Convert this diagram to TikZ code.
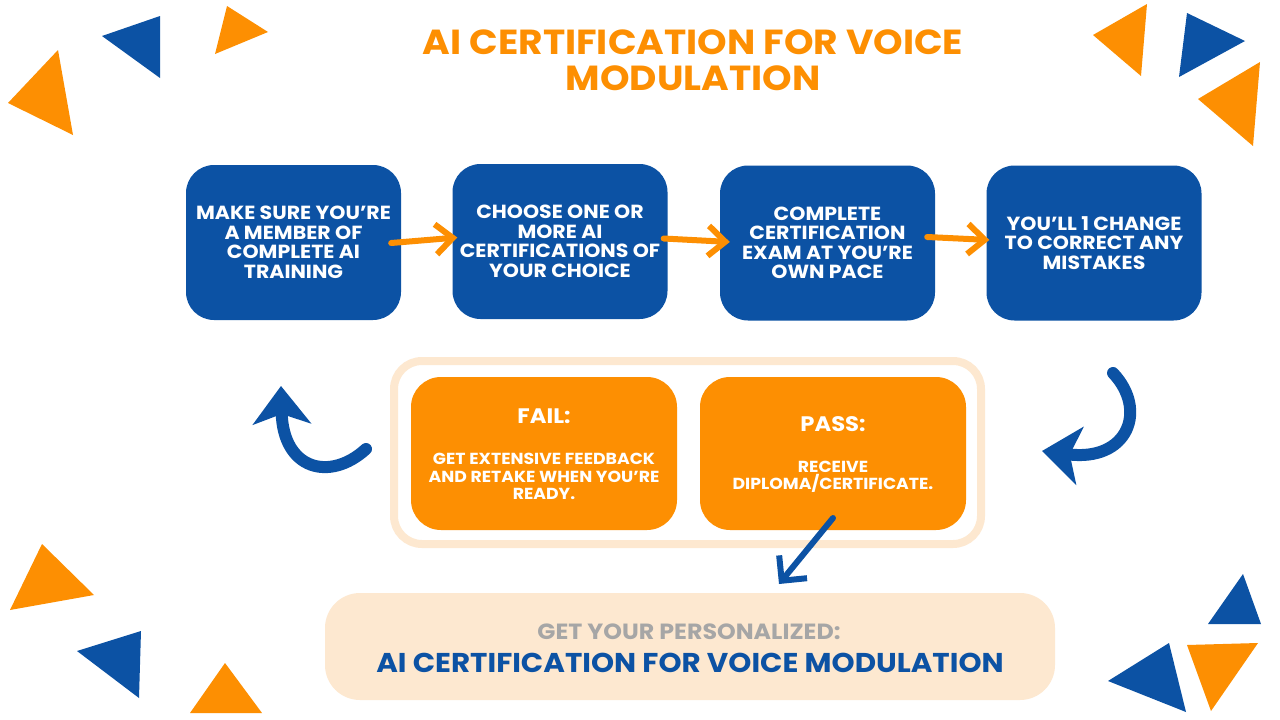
\documentclass[tikz,border=0pt]{standalone}
\usepackage{fontspec}
\setmainfont{Poppins}[FakeStretch=1.08]
\usetikzlibrary{arrows.meta,calc}
\definecolor{cblue}{RGB}{12,82,164}
\definecolor{corange}{RGB}{253,143,2}
\definecolor{cpeach}{RGB}{253,232,208}
\definecolor{cgray}{RGB}{166,166,166}
\tikzset{
  bluebox/.style={fill=cblue, rounded corners=28pt, minimum width=215pt, minimum height=155pt,
    text=white, align=center, font=\fontsize{19}{19.5}\selectfont\bfseries, inner sep=0pt},
  orbox/.style={fill=corange, rounded corners=30pt, minimum width=266pt, minimum height=153pt, inner sep=0pt},
  ortitle/.style={text=white, font=\fontsize{21}{24}\selectfont\bfseries, inner sep=0pt},
  ortext/.style={text=white, align=center, font=\fontsize{16}{17.5}\selectfont\bfseries, inner sep=0pt},
  orarrow/.style={draw=corange, line width=6pt, line cap=round, line join=round,
    -{Straight Barb[length=17pt,width=30pt]}},
  bluearrow/.style={draw=cblue, line width=6pt, line cap=round, line join=round,
    -{Straight Barb[length=18pt,width=36pt]}},
  bluecurve/.style={draw=cblue, line width=12pt, line cap=round,
    -{Stealth[length=38pt,width=58pt,inset=10pt]}}
}
\begin{document}
\begin{tikzpicture}[x=1pt,y=-1pt]
\useasboundingbox (0,0) rectangle (1280,720);
\fill[white] (0,0) rectangle (1280,720);
% decorative triangles
\fill[corange] (58,50) -- (8,103) -- (73,135) -- cycle;
\fill[cblue] (102,36) -- (160,16) -- (160,78) -- cycle;
\fill[corange] (227,6) -- (268,32) -- (215,54) -- cycle;
\fill[corange] (1093,35) -- (1147,4) -- (1141,76) -- cycle;
\fill[cblue] (1187,13) -- (1245,41) -- (1179,77) -- cycle;
\fill[corange] (1198,99) -- (1260,62) -- (1253,146) -- cycle;
\fill[corange] (42,544) -- (94,595) -- (10,610) -- cycle;
\fill[cblue] (77,651) -- (141,631) -- (139,698) -- cycle;
\fill[corange] (225,663) -- (262,713) -- (190,713) -- cycle;
\fill[cblue] (1243,574) -- (1261,624) -- (1208,624) -- cycle;
\fill[cblue] (1108,681) -- (1169,643) -- (1186,712) -- cycle;
\fill[corange] (1187,645) -- (1258,643) -- (1211,711) -- cycle;
% title
\node[text=corange, align=center, font=\fontsize{34.8}{36}\selectfont\bfseries, inner sep=0pt] (title) at (693,60)
  {AI CERTIFICATION FOR VOICE\\MODULATION};
% top boxes
\node[bluebox] (b1) at (293.5,242.5) {MAKE SURE YOU’RE\\A MEMBER OF\\COMPLETE AI\\TRAINING};
\node[bluebox] (b2) at (560,241.5) {CHOOSE ONE OR\\MORE AI\\CERTIFICATIONS OF\\YOUR CHOICE};
\node[bluebox] (b3) at (827.5,243) {COMPLETE\\CERTIFICATION\\EXAM AT YOU’RE\\OWN PACE};
\node[bluebox] (b4) at (1094,243) {YOU’LL 1 CHANGE\\TO CORRECT ANY\\MISTAKES};
\draw[orarrow] ($(b1.east)+(-10,0.5)$) -- ($(b2.west)+(5,-4)$);
\draw[orarrow] ($(b2.east)+(-4,-3)$) -- ($(b3.west)+(10,-1)$);
\draw[orarrow] ($(b3.east)+(-8,-6)$) -- ($(b4.west)+(3,-3)$);
% result container
\node[draw=cpeach, line width=8pt, rounded corners=28pt, minimum width=587pt, minimum height=183pt, inner sep=0pt] (cont) at (687.5,452.5) {};
\node[orbox] (fail) at (544,453.5) {};
\node[orbox] (pass) at (833,453.5) {};
\node[ortitle] (failt) at (544,416) {FAIL:};
\node[ortext] (failx) at (544,476.5) {GET EXTENSIVE FEEDBACK\\AND RETAKE WHEN YOU’RE\\READY.};
\node[ortitle] (passt) at (833,424) {PASS:};
\node[ortext] (passx) at (833,477) {RECEIVE\\DIPLOMA/CERTIFICATE.};
% bottom box
\node[fill=cpeach, rounded corners=35pt, minimum width=730pt, minimum height=107pt, inner sep=0pt] (res) at (690,646.5) {};
\node[text=cgray, font=\fontsize{22}{24}\selectfont\bfseries, inner sep=0pt] (rest) at (689,632) {GET YOUR PERSONALIZED:};
\node[text=cblue, font=\fontsize{27.2}{30}\selectfont\bfseries, inner sep=0pt] (resx) at (690,663) {AI CERTIFICATION FOR VOICE MODULATION};
% blue arrows
\coordinate (dt) at (833,518);
\coordinate (dh) at (779,584);
\draw[bluearrow] (dt) -- (dh);
\coordinate (lt) at (366,449);
\coordinate (lh) at (281,386);
\draw[bluecurve] (lt) .. controls (330,482) and (283,470) .. (lh);
\coordinate (rt) at (1113,373);
\coordinate (rh) at (1042,451);
\draw[bluecurve] (rt) .. controls (1148,410) and (1128,462) .. (rh);
\end{tikzpicture}
\end{document}
